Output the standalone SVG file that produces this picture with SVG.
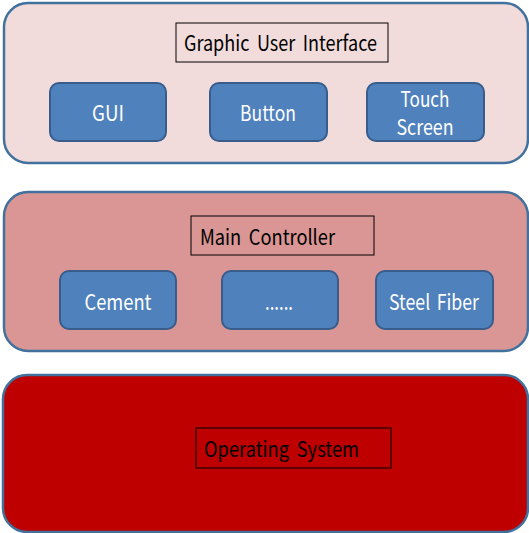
<svg xmlns="http://www.w3.org/2000/svg" width="529" height="533" viewBox="0 0 529 533">
<style>
.panel{stroke:#41719C;stroke-width:2.5}
.box{fill:#4F81BD;stroke:#385D8A;stroke-width:2}
.title{fill:none;stroke:#000;stroke-width:1}
text{font-family:"Noto Sans CJK KR","Noto Sans",sans-serif;font-size:21px}
.w{fill:#fff;text-anchor:middle}
.k{fill:#000}
</style>
<rect width="529" height="533" fill="#fff"/>
<g id="layer-gui">
<rect class="panel" x="4" y="3" width="524" height="160" rx="24" fill="#F2DCDB"/>
<rect class="title" x="176" y="23" width="212" height="39"/>
<text class="k" x="184" y="51" textLength="193" lengthAdjust="spacingAndGlyphs" word-spacing="4">Graphic User Interface</text>
</g>
<g id="node-gui">
<rect class="box" x="50" y="83" width="116" height="58" rx="9"/>
<text class="w" x="108" y="121" textLength="32" lengthAdjust="spacingAndGlyphs">GUI</text>
</g>
<g id="node-button">
<rect class="box" x="210" y="83" width="117" height="58" rx="9"/>
<text class="w" x="268" y="121" textLength="56" lengthAdjust="spacingAndGlyphs">Button</text>
</g>
<g id="node-touch">
<rect class="box" x="367" y="83" width="117" height="58" rx="9"/>
<text class="w" x="425" y="107" textLength="49" lengthAdjust="spacingAndGlyphs">Touch</text>
<text class="w" x="425" y="135" textLength="57" lengthAdjust="spacingAndGlyphs">Screen</text>
</g>
<g id="layer-main">
<rect class="panel" x="4" y="192" width="524" height="159" rx="24" fill="#D99694"/>
<rect class="title" x="191" y="216" width="183" height="39"/>
<text class="k" x="200" y="245" textLength="135" lengthAdjust="spacingAndGlyphs" word-spacing="4">Main Controller</text>
</g>
<g id="node-cement">
<rect class="box" x="60" y="271" width="116" height="58" rx="9"/>
<text class="w" x="118" y="310" textLength="67" lengthAdjust="spacingAndGlyphs">Cement</text>
</g>
<g id="node-dots">
<rect class="box" x="222" y="271" width="116" height="58" rx="9"/>
<text class="w" x="279" y="310" textLength="28" lengthAdjust="spacingAndGlyphs">......</text>
</g>
<g id="node-steel">
<rect class="box" x="376" y="271" width="117" height="58" rx="9"/>
<text class="w" x="434" y="310" textLength="90" lengthAdjust="spacingAndGlyphs" word-spacing="3">Steel Fiber</text>
</g>
<g id="layer-os">
<rect class="panel" x="3" y="375" width="525" height="157" rx="24" fill="#BE0000"/>
<rect class="title" x="196" y="428" width="195" height="40"/>
<text class="k" x="204" y="457" textLength="155" lengthAdjust="spacingAndGlyphs" word-spacing="4">Operating System</text>
</g>
<g id="connectors"/>
</svg>
